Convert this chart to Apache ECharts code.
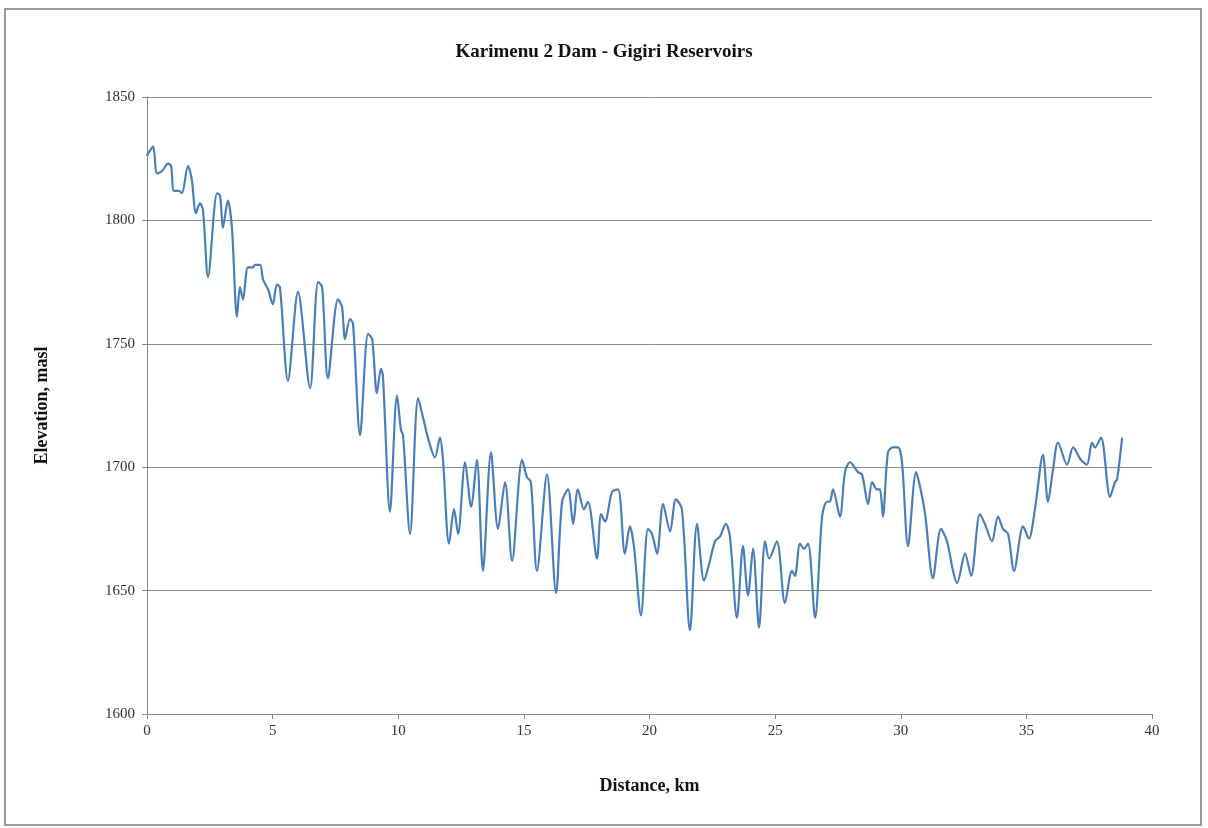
<!DOCTYPE html>
<html>
<head>
<meta charset="utf-8">
<script src="https://cdn.jsdelivr.net/npm/echarts@6/dist/echarts.min.js"></script>
<style>
  html, body { margin: 0; padding: 0; background: #fff; }
  #main { width: 1208px; height: 828px; }
</style>
</head>
<body>
<div id="main"></div>
<script>
var chartTitle = 'Karimenu 2 Dam - Gigiri Reservoirs';
var xName = 'Distance, km';
var yName = 'Elevation, masl';

// distance along the pipeline route (km)
var distance = [
  0, 0.04, 0.24, 0.40, 0.60, 0.84, 0.96, 1.07, 1.27, 1.39, 1.63, 1.71, 1.79, 1.95, 2.11, 2.23,
  2.43, 2.79, 2.91, 3.02, 3.22, 3.38, 3.58, 3.70, 3.82, 4.02, 4.22, 4.30, 4.50, 4.62, 4.82,
  5.01, 5.17, 5.29, 5.61, 6.01, 6.49, 6.81, 6.97, 7.20, 7.60, 7.76, 7.88, 8.08, 8.20, 8.48,
  8.80, 8.96, 9.15, 9.31, 9.39, 9.67, 9.95, 10.11, 10.19, 10.47, 10.79, 10.99, 11.18, 11.46,
  11.66, 11.78, 12.02, 12.22, 12.38, 12.66, 12.90, 13.13, 13.37, 13.69, 13.97, 14.25, 14.53,
  14.93, 15.12, 15.28, 15.52, 15.92, 16.28, 16.52, 16.76, 16.96, 17.15, 17.39, 17.55, 17.91,
  18.07, 18.23, 18.51, 18.75, 19.02, 19.22, 19.38, 19.66, 19.94, 20.10, 20.30, 20.54, 20.82,
  21.05, 21.29, 21.61, 21.89, 22.17, 22.33, 22.61, 22.81, 23.04, 23.20, 23.48, 23.72, 23.92,
  24.12, 24.36, 24.60, 24.76, 25.07, 25.39, 25.67, 25.79, 25.99, 26.15, 26.31, 26.59, 26.87,
  27.06, 27.18, 27.30, 27.58, 27.78, 27.98, 28.30, 28.46, 28.70, 28.86, 29.05, 29.17, 29.29,
  29.49, 29.69, 29.89, 30.05, 30.29, 30.61, 30.77, 30.97, 31.28, 31.60, 31.84, 32.08, 32.24,
  32.56, 32.80, 33.15, 33.35, 33.63, 33.87, 34.07, 34.27, 34.51, 34.87, 35.10, 35.34, 35.66,
  35.86, 36.06, 36.26, 36.62, 36.86, 37.17, 37.41, 37.61, 37.73, 37.97, 38.33, 38.53, 38.61,
  38.81
];

// ground elevation (masl)
var elevation = [
  1826, 1827, 1830, 1819, 1820, 1823, 1822, 1812, 1812, 1811, 1822, 1820, 1816, 1803, 1807, 1804,
  1777, 1811, 1810, 1797, 1808, 1797, 1761, 1773, 1768, 1781, 1781, 1782, 1782, 1776, 1772,
  1766, 1774, 1773, 1735, 1771, 1732, 1775, 1773, 1736, 1768, 1765, 1752, 1760, 1758, 1713,
  1754, 1752, 1730, 1740, 1737, 1682, 1729, 1715, 1713, 1673, 1728, 1720, 1712, 1704,
  1712, 1703, 1669, 1683, 1673, 1702, 1684, 1703, 1658, 1706, 1675, 1694, 1662,
  1703, 1696, 1694, 1658, 1697, 1649, 1686, 1691, 1677, 1691, 1683, 1686, 1663,
  1681, 1678, 1690, 1691, 1665, 1676, 1668, 1640, 1675, 1673, 1665, 1685, 1674,
  1687, 1683, 1634, 1677, 1654, 1659, 1670, 1672, 1677, 1672, 1639, 1668, 1648,
  1667, 1635, 1670, 1663, 1670, 1645, 1658, 1656, 1669, 1667, 1669, 1639, 1680,
  1686, 1686, 1691, 1680, 1698, 1702, 1698, 1697, 1685, 1694, 1691, 1691, 1680,
  1706, 1708, 1708, 1702, 1668, 1698, 1692, 1681, 1655, 1675, 1670, 1658, 1653,
  1665, 1656, 1681, 1677, 1670, 1680, 1675, 1673, 1658, 1676, 1671, 1683, 1705,
  1686, 1699, 1710, 1701, 1708, 1703, 1701, 1710, 1708, 1712, 1688, 1694, 1695,
  1712
];

var profile = distance.map(function (d, i) { return [d, elevation[i]]; });

var serif = "'Liberation Serif', 'DejaVu Serif', serif";

var myChart = echarts.init(document.getElementById('main'));
var option = {
  animation: false,
  backgroundColor: '#fff',
  title: {
    text: chartTitle,
    left: 'center',
    top: 38,
    textStyle: { fontFamily: serif, fontSize: 19, fontWeight: 'bold', color: '#111' }
  },
  graphic: [{
    type: 'rect',
    shape: { x: 5, y: 9, width: 1196, height: 816 },
    style: { fill: 'none', stroke: '#9a9a9a', lineWidth: 2 },
    silent: true
  }],
  grid: { left: 147, right: 56, top: 97, bottom: 114 },
  xAxis: {
    type: 'value',
    min: 0, max: 40, interval: 5,
    name: xName,
    nameLocation: 'middle',
    nameGap: 63,
    nameTextStyle: { fontFamily: serif, fontSize: 18, fontWeight: 'bold', color: '#111' },
    axisLine: { lineStyle: { color: '#888', width: 1 } },
    axisTick: { show: true, length: 5, lineStyle: { color: '#888' } },
    axisLabel: { fontFamily: serif, fontSize: 15, color: '#333', margin: 10 },
    splitLine: { show: false }
  },
  yAxis: {
    type: 'value',
    min: 1600, max: 1850, interval: 50,
    name: yName,
    nameLocation: 'middle',
    nameGap: 96,
    nameTextStyle: { fontFamily: serif, fontSize: 18, fontWeight: 'bold', color: '#111' },
    axisLine: { show: true, lineStyle: { color: '#888', width: 1 } },
    axisTick: { show: true, length: 5, lineStyle: { color: '#888' } },
    axisLabel: {
      fontFamily: serif, fontSize: 15, color: '#333', margin: 12,
      formatter: function (v) { return String(v); }
    },
    splitLine: { show: true, lineStyle: { color: '#8c8c8c', width: 1 } }
  },
  series: [{
    type: 'line',
    data: profile,
    smooth: 0.3,
    symbol: 'none',
    lineStyle: { color: '#4a7ebb', width: 2.2 }
  }]
};
myChart.setOption(option);
</script>
</body>
</html>
